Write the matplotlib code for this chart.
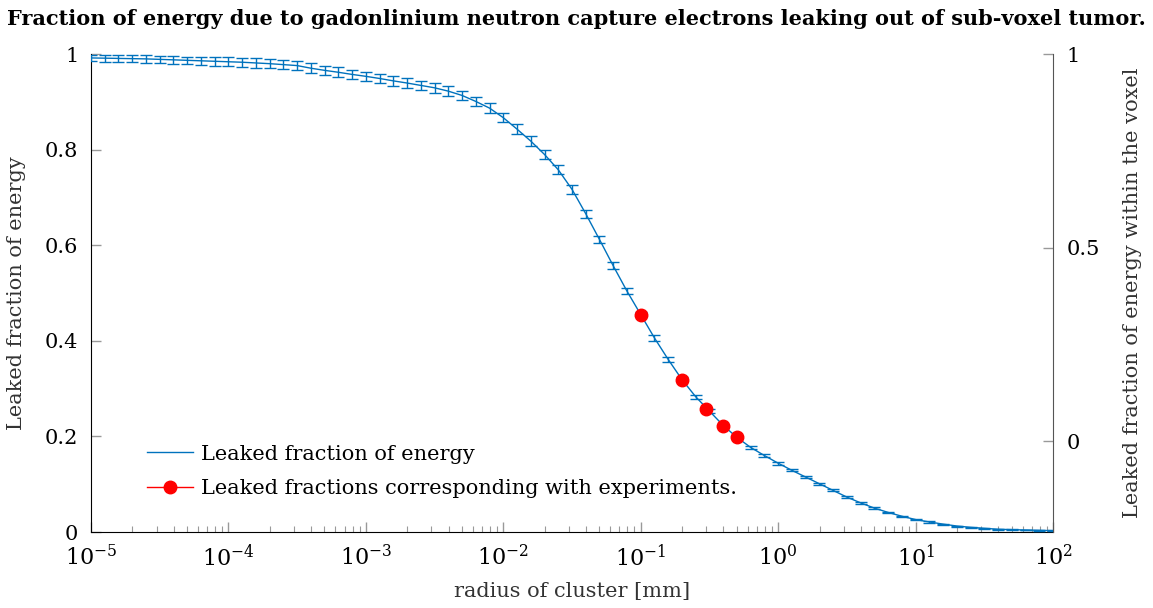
import numpy as np
import matplotlib
matplotlib.use('Agg')
import matplotlib.pyplot as plt
from matplotlib.lines import Line2D
from matplotlib.ticker import LogLocator

# radius of cluster [mm], 10 points per decade from 1e-5 to 1e2
log_radius = [-5.0, -4.9, -4.8, -4.7, -4.6, -4.5, -4.4, -4.3, -4.2, -4.1,
              -4.0, -3.9, -3.8, -3.7, -3.6, -3.5, -3.4, -3.3, -3.2, -3.1,
              -3.0, -2.9, -2.8, -2.7, -2.6, -2.5, -2.4, -2.3, -2.2, -2.1,
              -2.0, -1.9, -1.8, -1.7, -1.6, -1.5, -1.4, -1.3, -1.2, -1.1,
              -1.0, -0.9, -0.8, -0.7, -0.6, -0.5, -0.4, -0.3, -0.2, -0.1,
              0.0, 0.1, 0.2, 0.3, 0.4, 0.5, 0.6, 0.7, 0.8, 0.9,
              1.0, 1.1, 1.2, 1.3, 1.4, 1.5, 1.6, 1.7, 1.8, 1.9, 2.0]
leaked = [0.992, 0.9915, 0.991, 0.9905, 0.990, 0.989, 0.988, 0.987, 0.986, 0.985,
          0.984, 0.983, 0.9815, 0.980, 0.978, 0.976, 0.9705, 0.966, 0.962, 0.9575,
          0.9535, 0.949, 0.944, 0.9395, 0.9345, 0.9295, 0.9225, 0.9135, 0.901, 0.887,
          0.867, 0.843, 0.818, 0.790, 0.758, 0.717, 0.666, 0.612, 0.557, 0.504,
          0.455, 0.406, 0.361, 0.319, 0.283, 0.253, 0.223, 0.198, 0.177, 0.160,
          0.144, 0.129, 0.115, 0.101, 0.087, 0.073, 0.061, 0.050, 0.041, 0.033,
          0.026, 0.021, 0.0165, 0.0125, 0.0098, 0.0077, 0.0058, 0.0049, 0.0042, 0.0035, 0.0028]
leaked_err = [0.007, 0.007, 0.007, 0.008, 0.008, 0.008, 0.008, 0.008, 0.009, 0.009,
              0.009, 0.009, 0.010, 0.010, 0.010, 0.010, 0.010, 0.010, 0.010, 0.010,
              0.010, 0.010, 0.010, 0.010, 0.010, 0.010, 0.010, 0.010, 0.010, 0.010,
              0.010, 0.010, 0.010, 0.010, 0.009, 0.009, 0.008, 0.008, 0.007, 0.007,
              0.006, 0.006, 0.005, 0.005, 0.004, 0.004, 0.004, 0.003, 0.003, 0.003,
              0.003, 0.002, 0.002, 0.002, 0.002, 0.002, 0.002, 0.002, 0.0015, 0.0015,
              0.0015, 0.0015, 0.001, 0.001, 0.001, 0.001, 0.001, 0.001, 0.001, 0.001, 0.001]

# experiment radii and their leaked fractions
exp_radius = [0.1, 0.2, 0.3, 0.4, 0.5]
exp_leaked = [0.455, 0.319, 0.258, 0.222, 0.198]

xtick_vals = [1e-5, 1e-4, 1e-3, 1e-2, 1e-1, 1e0, 1e1, 1e2]
xtick_labels = [r'$10^{-5}$', r'$10^{-4}$', r'$10^{-3}$', r'$10^{-2}$',
                r'$10^{-1}$', r'$10^{0}$', r'$10^{1}$', r'$10^{2}$']

plt.rcParams['font.family'] = ['DejaVu Serif']
plt.rcParams['mathtext.fontset'] = 'dejavuserif'

blue = '#0072BD'
radius = [10 ** v for v in log_radius]

fig = plt.figure(figsize=(11.53, 6.08), dpi=100)
ax1 = fig.add_axes([0.0789, 0.125, 0.8344, 0.786])

ax1.errorbar(radius, leaked, yerr=leaked_err, color=blue, lw=1.0, elinewidth=1.0,
             capsize=4, capthick=1.0, zorder=3)
ax1.plot(exp_radius, exp_leaked, 'o', color='red', ms=9, zorder=4)

ax1.set_xscale('log')
ax1.set_xlim(1e-5, 1e2)
ax1.set_ylim(0, 1)
ax1.set_xticks(xtick_vals)
ax1.set_xticklabels(xtick_labels)
ax1.xaxis.set_minor_locator(LogLocator(base=10, subs=np.arange(2, 10), numticks=20))
ax1.set_yticks([0, 0.2, 0.4, 0.6, 0.8, 1])
ax1.set_yticklabels(['0', '0.2', '0.4', '0.6', '0.8', '1'])
ax1.tick_params(axis='y', which='major', direction='in', color='#999999',
                length=7, width=1, labelsize=15, pad=9)
ax1.tick_params(axis='x', which='major', direction='in', color='#999999',
                length=7, width=1, labelsize=16, pad=9)
ax1.tick_params(axis='x', which='minor', direction='in', color='#999999',
                length=4, width=0.8)
ax1.spines['top'].set_visible(False)
ax1.spines['right'].set_visible(False)
ax1.set_xlabel('radius of cluster [mm]', fontsize=15, color='#333333', labelpad=8)
ax1.set_ylabel('Leaked fraction of energy', fontsize=15, color='#333333', labelpad=14)

ax2 = ax1.twinx()
ax2.set_ylim(-0.235, 1)
ax2.set_yticks([0, 0.5, 1])
ax2.set_yticklabels(['0', '0.5', '1'])
ax2.tick_params(axis='y', direction='in', color='#999999', length=7, width=1,
                labelsize=15, pad=10)
ax2.spines['top'].set_visible(False)
ax2.spines['left'].set_visible(False)
ax2.spines['bottom'].set_visible(False)
ax2.spines['right'].set_color('#555555')
ax2.set_ylabel('Leaked fraction of energy within the voxel', fontsize=15,
               color='#333333', labelpad=16)

handles = [Line2D([], [], color=blue, lw=1.0),
           Line2D([], [], color='red', lw=1.0, marker='o', ms=9)]
labels = ['Leaked fraction of energy',
          'Leaked fractions corresponding with experiments.']
ax1.legend(handles, labels, loc='upper left', bbox_to_anchor=(0.05, 0.2),
           frameon=False, fontsize=15, handlelength=2.2, handletextpad=0.35,
           labelspacing=0.75, borderaxespad=0)

fig.suptitle('Fraction of energy due to gadonlinium neutron capture electrons leaking out of sub-voxel tumor.',
             fontsize=15, fontweight='bold', x=0.5, y=0.985)

fig.savefig('out.png', dpi=100)
